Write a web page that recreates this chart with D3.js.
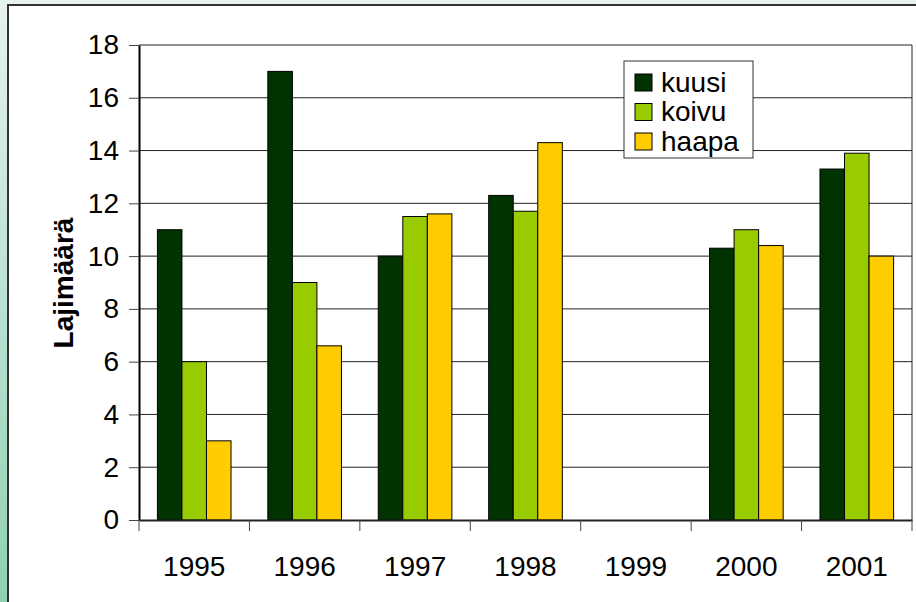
<!DOCTYPE html>
<html>
<head>
<meta charset="utf-8">
<script src="https://cdn.jsdelivr.net/npm/d3@7"></script>
<style>
  body { margin: 0; background: #fff; }
  text { font-family: "Liberation Sans", Arial, sans-serif; }
</style>
</head>
<body>
<div id="chart"></div>
<script>
// Species counts per year and tree type.
let years = ["1995", "1996", "1997", "1998", "1999", "2000", "2001"];
let series = ["kuusi", "koivu", "haapa"];
let kuusi = [11, 17, 10, 12.3, null, 10.3, 13.3];
let koivu = [6, 9, 11.5, 11.7, null, 11, 13.9];
let haapa = [3, 6.6, 11.6, 14.3, null, 10.4, 10];
let yTicks = [0, 2, 4, 6, 8, 10, 12, 14, 16, 18];
let colors = {"kuusi": "#003300", "koivu": "#99cc00", "haapa": "#ffcc00"};
let values = {"kuusi": kuusi, "koivu": koivu, "haapa": haapa};

let W = 916, H = 602;
let margin = {top: 45, right: 4, bottom: 82, left: 139},
    width = 912 - margin.left,
    height = 520 - margin.top;

let svg = d3.select("#chart")
            .append("svg")
            .attr("width", W)
            .attr("height", H);

// Background strips and white panel.
let defs = svg.append("defs");
let grad = defs.append("linearGradient")
               .attr("id", "side")
               .attr("x1", 0).attr("y1", 0).attr("x2", 0).attr("y2", 1);
grad.append("stop").attr("offset", "0%").attr("stop-color", "#e6f3ec");
grad.append("stop").attr("offset", "100%").attr("stop-color", "#8ed0b4");

svg.append("rect").attr("x", 0).attr("y", 0).attr("width", W).attr("height", H).attr("fill", "url(#side)");
svg.append("rect").attr("x", 0).attr("y", 0).attr("width", W).attr("height", 4).attr("fill", "#e6f3ec");
svg.append("rect")
   .attr("x", 8).attr("y", 5)
   .attr("width", W + 10).attr("height", H + 10)
   .attr("fill", "#fff")
   .attr("stroke", "#333")
   .attr("stroke-width", 2);

let g = svg.append("g")
           .attr("transform", "translate(" + margin.left + "," + margin.top + ")");

// Scales.
let x = d3.scaleBand().domain(years).range([0, width]).paddingInner(0);
let xs = d3.scaleBand().domain(series).range([x.bandwidth() / 6, x.bandwidth() * 5 / 6]);
let y = d3.scaleLinear().domain([0, 18]).range([height, 0]);

// Gridlines.
g.append("g")
 .selectAll("line")
 .data(yTicks.slice(1))
 .enter()
 .append("line")
 .attr("x1", 0)
 .attr("x2", width)
 .attr("y1", function(d) { return y(d); })
 .attr("y2", function(d) { return y(d); })
 .attr("stroke", "#222")
 .attr("stroke-width", 1);

// Right border of plot area.
g.append("line")
 .attr("x1", width).attr("x2", width)
 .attr("y1", 0).attr("y2", height)
 .attr("stroke", "#222");

// Bars.
series.forEach(function(s) {
    g.append("g")
     .selectAll("rect")
     .data(years.map(function(yr, i) { return {year: yr, value: values[s][i]}; })
                .filter(function(d) { return d.value != null; }))
     .enter()
     .append("rect")
     .attr("x", function(d) { return x(d.year) + xs(s); })
     .attr("y", function(d) { return y(d.value); })
     .attr("width", xs.bandwidth())
     .attr("height", function(d) { return y(0) - y(d.value); })
     .attr("fill", colors[s])
     .attr("stroke", "#000")
     .attr("stroke-width", 1);
});

// Y axis.
let yAxis = g.append("g")
   .call(d3.axisLeft(y).tickValues(yTicks).tickSize(10).tickPadding(10).tickSizeOuter(0));
yAxis.select(".domain").attr("stroke", "#000").attr("stroke-width", 2);
yAxis.selectAll(".tick line").attr("stroke", "#444");
yAxis.selectAll("text").attr("font-size", "28px").attr("fill", "#000");

// X axis, ticks between categories.
let xAxis = g.append("g")
   .attr("transform", "translate(0," + height + ")")
   .call(d3.axisBottom(x).tickSize(0).tickPadding(36));
xAxis.select(".domain").attr("stroke", "#222").attr("stroke-width", 2);
xAxis.selectAll("text").attr("font-size", "28px").attr("fill", "#000");
xAxis.selectAll(".sep")
     .data(years.concat(["end"]))
     .enter()
     .append("line")
     .attr("x1", function(d, i) { return i * x.step(); })
     .attr("x2", function(d, i) { return i * x.step(); })
     .attr("y1", 0)
     .attr("y2", 11)
     .attr("stroke", "#444");

// Y axis label.
g.append("text")
 .attr("transform", "rotate(-90)")
 .attr("x", -(283 - margin.top))
 .attr("y", -margin.left + 73)
 .attr("text-anchor", "middle")
 .attr("font-size", "28px")
 .attr("font-weight", "bold")
 .text("Lajimäärä");

// Legend.
let legend = svg.append("g").attr("transform", "translate(624,61)");
legend.append("rect")
      .attr("width", 129).attr("height", 97)
      .attr("fill", "#fff")
      .attr("stroke", "#333")
      .attr("stroke-width", 1);
series.forEach(function(s, i) {
    legend.append("rect")
          .attr("x", 11).attr("y", 13 + i * 29.5)
          .attr("width", 17).attr("height", 17)
          .attr("fill", colors[s])
          .attr("stroke", "#000");
    legend.append("text")
          .attr("x", 37).attr("y", 21 + i * 29.5)
          .attr("dominant-baseline", "central")
          .attr("font-size", "28px")
          .text(s);
});
</script>
</body>
</html>
